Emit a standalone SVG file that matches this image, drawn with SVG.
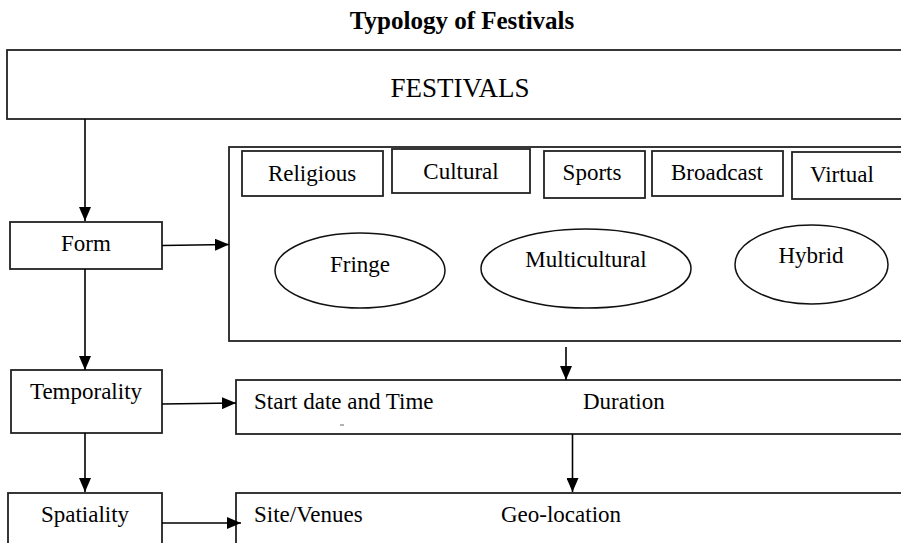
<svg xmlns="http://www.w3.org/2000/svg" width="901" height="543" viewBox="0 0 901 543">
<defs>
<marker id="ah" markerWidth="14" markerHeight="12" refX="14" refY="6" orient="auto" markerUnits="userSpaceOnUse">
<path d="M0,0 L14,6 L0,12 Z" fill="#000"/>
</marker>
<style>
.box{fill:#fff;stroke:#222;stroke-width:1.8}
.ell{fill:#fff;stroke:#111;stroke-width:1.5}
.t{font-family:"Liberation Serif","Times New Roman",serif;font-size:23px;fill:#000}
.c{text-anchor:middle}
.ln{stroke:#000;stroke-width:1.6;fill:none;marker-end:url(#ah)}
</style>
</defs>
<rect width="901" height="543" fill="#fff"/>
<text x="462" y="29" class="t c" style="font-size:25px;font-weight:bold">Typology of Festivals</text>

<g id="festivals"><rect class="box" x="7" y="50" width="900" height="69"/><text x="460" y="97" class="t c" style="font-size:27px">FESTIVALS</text></g>
<g id="form"><rect class="box" x="10" y="222" width="152" height="47"/><text x="86" y="251" class="t c">Form</text></g>
<g id="form-types"><rect class="box" x="229" y="147" width="680" height="194"/></g>
<g id="religious"><rect class="box" x="242" y="151" width="141" height="45"/><text x="312" y="181" class="t c">Religious</text></g>
<g id="cultural"><rect class="box" x="392" y="149" width="138" height="44"/><text x="461" y="179" class="t c">Cultural</text></g>
<g id="sports"><rect class="box" x="544" y="151" width="101" height="47"/><text x="592" y="180" class="t c">Sports</text></g>
<g id="broadcast"><rect class="box" x="652" y="151" width="131" height="45"/><text x="717" y="180" class="t c">Broadcast</text></g>
<g id="virtual"><rect class="box" x="792" y="152" width="120" height="47"/><text x="810" y="182" class="t">Virtual</text></g>
<g id="fringe"><ellipse class="ell" cx="360" cy="270.5" rx="85" ry="37.5"/><text x="360" y="272" class="t c">Fringe</text></g>
<g id="multicultural"><ellipse class="ell" cx="586" cy="268.5" rx="105" ry="39.5"/><text x="586" y="267" class="t c">Multicultural</text></g>
<g id="hybrid"><ellipse class="ell" cx="811.5" cy="264.5" rx="76.5" ry="39.5"/><text x="811" y="263" class="t c">Hybrid</text></g>

<g id="temporality"><rect class="box" x="11" y="370" width="151" height="63"/><text x="86" y="399" class="t c">Temporality</text></g>
<g id="time-box"><rect class="box" x="236" y="380" width="680" height="54"/><text x="254" y="409" class="t">Start date and Time</text><text x="583" y="409" class="t">Duration</text><line x1="340" y1="425" x2="344" y2="425" stroke="#666" stroke-width="1"/></g>
<g id="spatiality"><rect class="box" x="8" y="493" width="154" height="60"/><text x="85" y="522" class="t c">Spatiality</text></g>
<g id="space-box"><rect class="box" x="236" y="493" width="680" height="60"/><text x="254" y="522" class="t">Site/Venues</text><text x="501" y="522" class="t">Geo-location</text></g>

<g id="connectors">
<line class="ln" x1="85" y1="119" x2="85" y2="221"/>
<line class="ln" x1="162" y1="245.5" x2="229" y2="244.5"/>
<line class="ln" x1="85" y1="269" x2="85" y2="370"/>
<line class="ln" x1="566" y1="347" x2="566" y2="380"/>
<line class="ln" x1="162" y1="404" x2="236" y2="403"/>
<line class="ln" x1="85" y1="433" x2="85" y2="492"/>
<line class="ln" x1="572.5" y1="434" x2="572.5" y2="492"/>
<line class="ln" x1="162" y1="523" x2="241" y2="523"/>
</g>
</svg>
